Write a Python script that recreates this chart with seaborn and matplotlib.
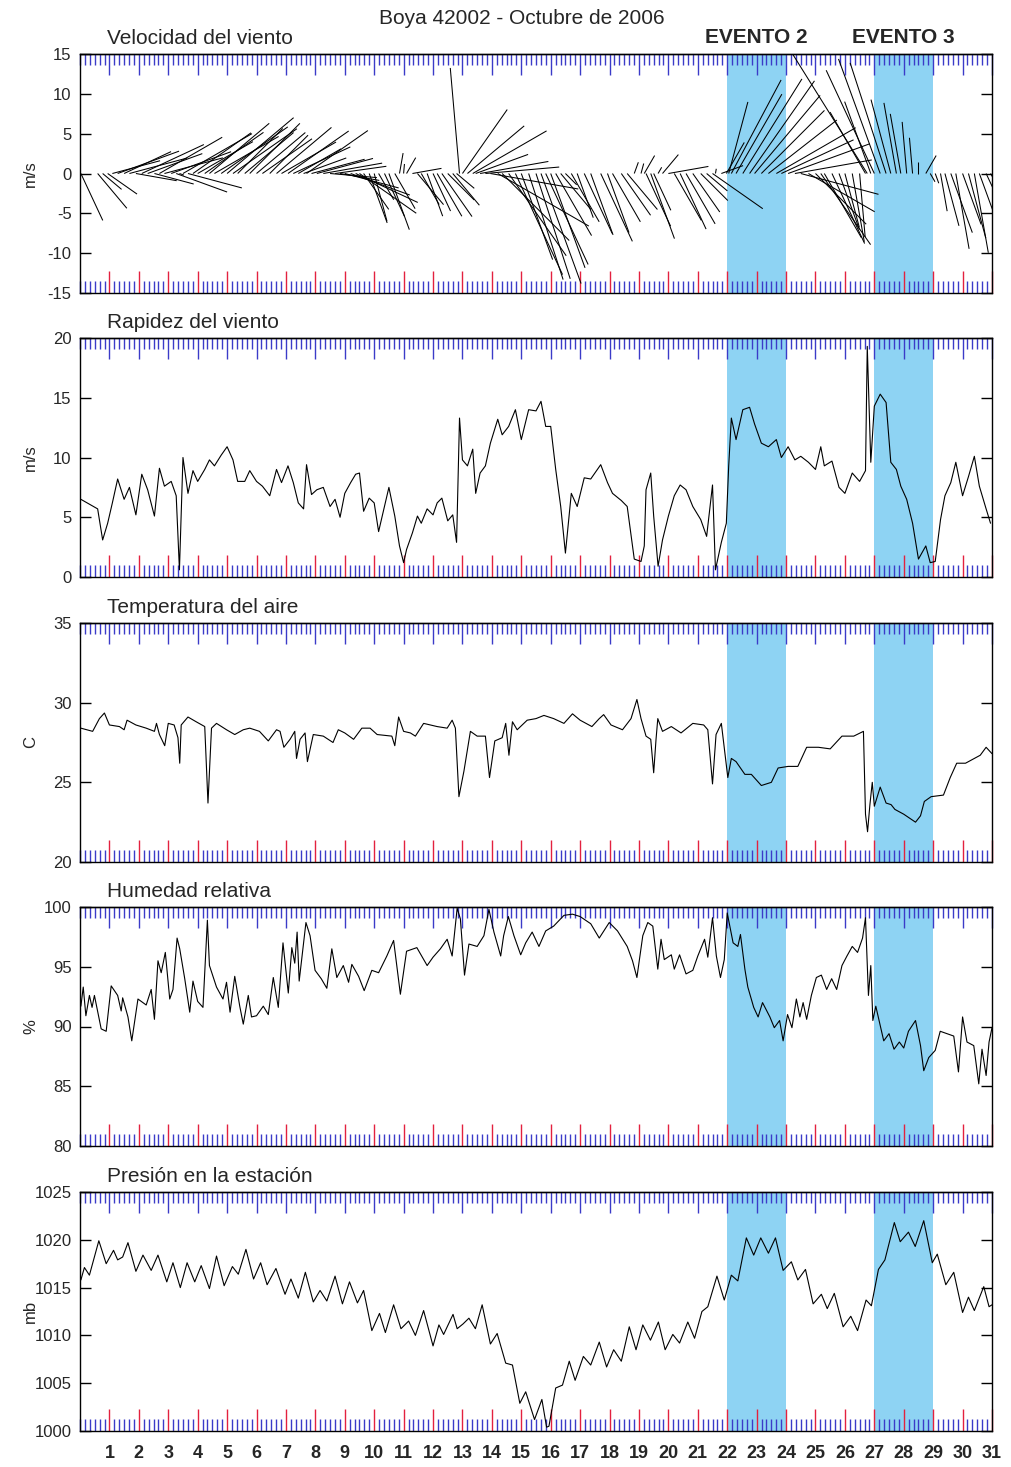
import numpy as np
import pandas as pd
import matplotlib
matplotlib.use("Agg")
import matplotlib.pyplot as plt
import seaborn as sns
from matplotlib.ticker import MultipleLocator, FixedLocator
from matplotlib.collections import LineCollection

# ---------------- data ----------------
# wind speed (m/s) and stick direction (deg, 0 = toward right/east, 90 = up/north)
t_wind = [0.03, 0.6, 0.77, 0.94, 1.1, 1.28, 1.5, 1.68, 1.9, 2.1, 2.3, 2.53, 2.7, 2.87, 3.1, 3.27, 3.38, 3.5,
          3.67, 3.84, 4.0, 4.24, 4.4, 4.57, 4.8, 5.0, 5.2, 5.36, 5.6, 5.77, 6.0, 6.2, 6.45, 6.68, 6.85, 7.07,
          7.25, 7.42, 7.6, 7.7, 7.87, 8.05, 8.27, 8.5, 8.67, 8.84, 9.0, 9.2, 9.37, 9.5, 9.64, 9.83, 10.0,
          10.15, 10.35, 10.5, 10.7, 10.86, 11.0, 11.1, 11.3, 11.47, 11.6, 11.8, 12.0, 12.14, 12.3, 12.5,
          12.67, 12.8, 12.9, 13.0, 13.17, 13.35, 13.45, 13.6, 13.78, 13.95, 14.2, 14.35, 14.57, 14.8, 15.0,
          15.25, 15.5, 15.67, 15.83, 16.0, 16.17, 16.34, 16.5, 16.7, 16.9, 17.14, 17.36, 17.7, 17.93, 18.1,
          18.4, 18.6, 18.84, 19.07, 19.18, 19.24, 19.4, 19.5, 19.65, 19.8, 20.0, 20.2, 20.4, 20.6, 20.83,
          21.1, 21.3, 21.5, 21.6, 21.8, 21.97, 22.05, 22.14, 22.3, 22.53, 22.76, 22.93, 23.16, 23.4, 23.67,
          23.84, 24.07, 24.3, 24.5, 24.76, 25.0, 25.18, 25.3, 25.56, 25.8, 26.0, 26.25, 26.5, 26.7, 26.76,
          26.88, 27.0, 27.2, 27.4, 27.56, 27.75, 27.9, 28.1, 28.3, 28.5, 28.75, 28.9, 29.07, 29.25, 29.4,
          29.6, 29.77, 30.0, 30.2, 30.4, 30.57, 30.8, 30.95]
speed = [6.5, 5.7, 3.1, 4.5, 6.2, 8.2, 6.5, 7.5, 5.2, 8.6, 7.3, 5.1, 9.1, 7.6, 8.0, 6.8, 0.6, 10.0,
         7.0, 8.9, 8.0, 9.0, 9.8, 9.3, 10.2, 10.9, 9.8, 8.0, 8.0, 8.9, 8.0, 7.6, 6.8, 9.0, 7.9, 9.3,
         7.9, 6.2, 5.7, 9.4, 6.9, 7.3, 7.5, 5.9, 6.5, 5.0, 7.0, 7.9, 8.6, 8.7, 5.5, 6.6, 6.2,
         3.8, 5.9, 7.5, 5.1, 2.6, 1.2, 2.3, 3.7, 5.1, 4.5, 5.7, 5.2, 6.2, 6.6, 4.7,
         5.2, 2.9, 13.3, 9.8, 9.3, 10.7, 7.0, 8.7, 9.3, 11.2, 13.2, 11.9, 12.6, 14.0, 11.5,
         14.0, 13.9, 14.7, 12.6, 12.6, 9.0, 5.9, 2.0, 7.0, 5.9, 8.3, 8.2, 9.4, 7.9, 7.0,
         6.4, 5.9, 1.5, 1.3, 2.6, 7.3, 8.7, 5.1, 0.9, 3.1, 5.1, 6.8, 7.7, 7.3, 5.9,
         4.8, 3.4, 7.7, 0.6, 2.9, 4.5, 9.3, 13.3, 11.5, 14.0, 14.2, 12.8, 11.2, 10.9, 11.5,
         10.0, 10.9, 9.8, 10.1, 9.6, 9.0, 10.9, 9.3, 9.7, 7.5, 7.0, 8.7, 8.0, 8.9, 19.3,
         9.6, 14.3, 15.3, 14.6, 9.6, 9.0, 7.6, 6.5, 4.5, 1.5, 2.6, 1.2, 1.3, 4.8, 6.8,
         7.9, 9.6, 6.8, 8.4, 10.1, 7.6, 5.7, 4.5]
direction = [-65, -50, -40, -35, 15, 20, 25, 15, -10, 25, 20, -15, 30, 15, 20, -20, -20, 30,
             -15, 35, 30, 35, 40, 30, 35, 40, 35, 45, 40, 45, 40, 35, 45, 40, 30, 35,
             25, 30, 20, 35, 15, 15, 10, -5, 8, -10, -15, -20, -25, -35, -55, -70, -75,
             -60, -65, -70, -60, 80, 85, 60, 10, -50, -60, -70, -65, -60, -55, -45,
             -50, -40, 95, 55, 40, 30, 20, 10, 5, -10, -30, -45, -55, -65, -70,
             -72, -72, -70, -65, -70, -60, -50, -45, -60, -70, -65, -70, -65, -70, -60,
             -55, -50, 70, 75, 60, -65, -70, -65, 60, 50, 10, -60, -65, -60, -55,
             -45, -40, -35, 80, 20, 60, 75, 62, 60, 58, 55, 50, 45, 38, 30,
             25, 20, 10, -15, -30, -45, -55, -60, -65, -70, -75, -80, -85, 120, 122,
             110, 115, 110, 108, 105, 100, 100, 95, 95, 90, 60, -60, -70, -80, -75,
             -70, -80, -70, -75, -80, -70, -65, -60]

# air temperature (C)
t_temp = [0.03, 0.43, 0.66, 0.83, 1.0, 1.34, 1.5, 1.6, 1.9, 2.25, 2.53, 2.6, 2.7, 2.88, 3.0, 3.2, 3.33, 3.39,
          3.44, 3.67, 3.95, 4.24, 4.35, 4.47, 4.64, 4.98, 5.26, 5.55, 5.77, 6.1, 6.4, 6.68, 6.8, 6.93, 7.14,
          7.3, 7.36, 7.48, 7.65, 7.73, 7.93, 8.27, 8.6, 8.78, 9.0, 9.3, 9.58, 9.86, 10.1, 10.6, 10.7, 10.83,
          11.0, 11.23, 11.4, 11.68, 12.14, 12.48, 12.65, 12.76, 12.88, 13.05, 13.27, 13.5, 13.78, 13.92,
          14.1, 14.35, 14.47, 14.58, 14.7, 14.86, 15.2, 15.5, 15.77, 16.1, 16.45, 16.74, 17.0, 17.4, 17.65,
          17.8, 18.05, 18.44, 18.73, 18.93, 19.07, 19.24, 19.4, 19.5, 19.58, 19.64, 19.8, 20.1, 20.43,
          20.83, 21.2, 21.34, 21.5, 21.62, 21.8, 22.02, 22.14, 22.3, 22.6, 22.82, 23.16, 23.5, 23.73,
          24.07, 24.4, 24.7, 25.1, 25.5, 25.9, 26.3, 26.63, 26.7, 26.77, 26.85, 26.93, 27.0, 27.2, 27.4,
          27.57, 27.7, 28.0, 28.4, 28.57, 28.7, 28.93, 29.35, 29.58, 29.8, 30.1, 30.4, 30.6, 30.8, 31.0]
temp = [28.4, 28.2, 29.0, 29.35, 28.6, 28.5, 28.3, 28.9, 28.6, 28.4, 28.2, 28.7, 28.0, 27.3, 28.7, 28.6, 27.8, 26.2,
        28.6, 29.1, 28.8, 28.5, 23.7, 28.4, 28.7, 28.3, 28.0, 28.3, 28.4, 28.2, 27.6, 28.3, 28.2, 27.2, 27.7,
        28.2, 26.5, 27.7, 28.1, 26.3, 28.0, 27.9, 27.5, 28.3, 28.1, 27.7, 28.4, 28.4, 28.0, 27.9, 27.3, 29.1,
        28.2, 28.1, 27.9, 28.7, 28.5, 28.4, 28.9, 28.4, 24.1, 25.7, 28.2, 27.9, 27.9, 25.3,
        27.6, 27.8, 28.7, 26.7, 28.8, 28.3, 28.9, 29.0, 29.2, 29.0, 28.7, 29.3, 28.9, 28.5, 29.0,
        29.25, 28.6, 28.3, 29.0, 30.2, 29.0, 27.9, 27.7, 25.6, 27.7, 29.0, 28.2, 28.5, 28.1,
        28.7, 28.6, 28.3, 24.9, 28.0, 28.7, 25.3, 26.5, 26.3, 25.5, 25.5, 24.8, 25.0, 25.9,
        26.0, 26.0, 27.2, 27.2, 27.1, 27.9, 27.9, 28.2, 23.0, 21.9, 23.6, 25.0, 23.5, 24.7, 23.7,
        23.6, 23.3, 23.0, 22.5, 22.9, 23.8, 24.1, 24.2, 25.3, 26.2, 26.2, 26.5, 26.7, 27.2, 26.8]

# relative humidity (%)
t_hum = [0.03, 0.11, 0.2, 0.32, 0.41, 0.49, 0.72, 0.89, 1.06, 1.28, 1.4, 1.45, 1.63, 1.76, 1.97, 2.25, 2.42,
         2.53, 2.65, 2.76, 2.9, 3.05, 3.16, 3.3, 3.39, 3.56, 3.73, 3.84, 4.0, 4.18, 4.33, 4.4, 4.64, 4.86,
         4.98, 5.1, 5.26, 5.43, 5.55, 5.72, 5.83, 6.0, 6.23, 6.4, 6.57, 6.74, 6.9, 7.08, 7.2, 7.3, 7.38,
         7.45, 7.68, 7.82, 7.99, 8.2, 8.39, 8.56, 8.73, 8.95, 9.13, 9.24, 9.47, 9.66, 9.92, 10.15, 10.43,
         10.66, 10.89, 11.1, 11.45, 11.8, 12.0, 12.25, 12.48, 12.65, 12.82, 12.93, 13.07, 13.22, 13.5,
         13.73, 13.9, 14.07, 14.3, 14.4, 14.56, 14.75, 14.98, 15.15, 15.37, 15.6, 15.83, 16.1, 16.45,
         16.74, 17.0, 17.36, 17.65, 17.99, 18.27, 18.6, 18.78, 18.93, 19.13, 19.3, 19.47, 19.64, 19.75,
         19.86, 20.1, 20.2, 20.38, 20.6, 20.83, 21.0, 21.23, 21.34, 21.5, 21.63, 21.77, 21.9, 22.0, 22.2,
         22.36, 22.45, 22.6, 22.7, 22.9, 23.05, 23.2, 23.45, 23.6, 23.78, 23.9, 24.05, 24.2, 24.35, 24.47,
         24.58, 24.7, 24.86, 25.03, 25.2, 25.38, 25.55, 25.72, 25.9, 26.07, 26.25, 26.43, 26.6, 26.7,
         26.8, 26.88, 26.95, 27.05, 27.2, 27.32, 27.5, 27.67, 27.85, 28.0, 28.16, 28.4, 28.57, 28.68,
         28.85, 29.07, 29.24, 29.47, 29.7, 29.86, 30.0, 30.15, 30.38, 30.55, 30.66, 30.8, 30.9, 31.0]
hum = [91.7, 93.3, 90.9, 92.6, 91.6, 92.6, 89.8, 89.6, 93.4, 92.6, 91.3, 92.4, 90.8, 88.8, 92.3, 91.8, 93.1,
       90.6, 95.5, 94.5, 96.2, 92.3, 93.1, 97.4, 96.5, 94.0, 91.2, 93.8, 92.1, 91.6, 98.9, 95.1, 93.3, 92.3,
       93.7, 91.2, 94.2, 91.7, 90.2, 92.6, 90.8, 90.9, 91.7, 91.0, 94.1, 91.6, 97.0, 92.8, 96.6, 95.3, 97.9,
       93.8, 98.7, 97.6, 94.7, 94.0, 93.2, 96.5, 94.1, 95.1, 93.7, 95.2, 94.2, 93.0, 94.7, 94.5, 95.9,
       97.2, 92.7, 96.3, 96.6, 95.1, 95.8, 96.5, 97.3, 95.9, 99.9, 99.0, 94.3, 96.9, 96.7,
       97.6, 99.8, 97.9, 95.9, 97.6, 99.2, 97.6, 96.0, 97.0, 97.9, 96.7, 98.0, 98.4, 99.3,
       99.4, 99.2, 98.6, 97.4, 98.7, 98.0, 96.7, 95.5, 94.1, 97.6, 98.7, 98.4, 94.8, 97.3,
       95.6, 96.0, 94.8, 96.0, 94.4, 94.7, 95.9, 97.3, 95.8, 99.1, 95.9, 94.1, 95.6, 99.5, 97.0,
       96.7, 97.7, 94.8, 93.3, 91.6, 90.8, 92.0, 90.8, 89.9, 90.5, 88.8, 91.0, 89.9, 92.3, 90.8,
       92.0, 90.6, 92.6, 94.1, 94.3, 93.1, 94.0, 93.1, 95.1, 95.9, 96.7, 96.2, 97.4, 99.1,
       92.6, 95.1, 90.5, 91.7, 90.1, 88.8, 89.4, 88.1, 88.7, 88.2, 89.6, 90.5, 88.4, 86.3,
       87.4, 88.0, 89.6, 89.4, 89.2, 86.2, 90.8, 88.7, 88.4, 85.2, 88.1, 85.9, 88.7, 89.9]

# station pressure (mb)
t_pres = [0.03, 0.15, 0.32, 0.64, 0.89, 1.14, 1.28, 1.45, 1.63, 1.9, 2.14, 2.42, 2.65, 2.95, 3.16, 3.41, 3.64,
          3.9, 4.12, 4.4, 4.64, 4.9, 5.18, 5.38, 5.64, 5.9, 6.14, 6.36, 6.66, 6.97, 7.17, 7.42, 7.66, 7.93,
          8.16, 8.39, 8.67, 8.92, 9.16, 9.43, 9.64, 9.92, 10.18, 10.38, 10.66, 10.91, 11.17, 11.4, 11.68,
          12.0, 12.2, 12.36, 12.68, 12.82, 13.02, 13.22, 13.44, 13.67, 13.95, 14.18, 14.47, 14.7, 14.95,
          15.15, 15.45, 15.7, 15.86, 15.94, 16.17, 16.4, 16.63, 16.83, 17.11, 17.36, 17.65, 17.9, 18.14,
          18.4, 18.67, 18.9, 19.13, 19.39, 19.66, 19.89, 20.15, 20.38, 20.66, 20.89, 21.14, 21.34, 21.65,
          21.9, 22.14, 22.36, 22.65, 22.9, 23.14, 23.4, 23.64, 23.9, 24.18, 24.4, 24.66, 24.92, 25.2,
          25.4, 25.64, 25.94, 26.2, 26.43, 26.72, 26.9, 27.14, 27.36, 27.68, 27.88, 28.16, 28.39, 28.68,
          28.97, 29.14, 29.43, 29.7, 30.0, 30.2, 30.4, 30.72, 30.9, 31.0]
pres = [1015.8, 1017.1, 1016.3, 1019.9, 1017.5, 1018.9, 1017.9, 1018.2, 1019.7, 1016.7, 1018.4, 1016.8, 1018.4,
        1015.6, 1017.6, 1015.0, 1017.6, 1015.6, 1017.3, 1014.9, 1018.3, 1015.2, 1017.2, 1016.4, 1019.0, 1015.9,
        1017.6, 1015.3, 1017.0, 1014.3, 1015.9, 1013.9, 1016.6, 1013.5, 1014.7, 1013.6, 1016.2, 1013.3, 1015.6,
        1013.4, 1014.7, 1010.5, 1012.3, 1010.3, 1013.2, 1010.7, 1011.5, 1010.0, 1012.6, 1008.9, 1011.1, 1010.1,
        1012.2, 1010.7, 1011.2, 1011.8, 1010.7, 1013.2, 1009.1, 1010.2, 1007.1, 1006.9, 1002.9, 1004.1, 1001.2,
        1003.3, 1000.4, 1000.5, 1004.5, 1004.8, 1007.3, 1005.3, 1007.8, 1006.9, 1009.3, 1006.7, 1008.5, 1007.3,
        1010.9, 1008.5, 1011.1, 1009.5, 1011.4, 1008.5, 1010.1, 1009.2, 1011.4, 1009.7, 1012.5, 1013.0, 1016.2,
        1013.7, 1016.3, 1015.7, 1020.2, 1018.4, 1020.2, 1018.6, 1020.2, 1016.8, 1017.7, 1015.8, 1016.9, 1013.3,
        1014.3, 1012.8, 1014.4, 1010.9, 1012.0, 1010.5, 1013.7, 1013.1, 1016.9, 1017.9, 1021.8, 1019.8, 1020.8,
        1019.3, 1022.0, 1017.6, 1018.5, 1015.3, 1016.6, 1012.4, 1014.0, 1012.6, 1015.1, 1013.0, 1013.2]

events = [("EVENTO 2", 22, 24), ("EVENTO 3", 27, 29)]
panel_titles = ["Velocidad del viento", "Rapidez del viento", "Temperatura del aire",
                "Humedad relativa", "Presión en la estación"]
units = ["m/s", "m/s", "C", "%", "mb"]
ylims = [(-15, 15), (0, 20), (20, 35), (80, 100), (1000, 1025)]
day_ticks = list(range(1, 32))
main_title = "Boya 42002 - Octubre de 2006"

# ---------------- style ----------------
sns.set_style("white")
plt.rcParams['font.family'] = ['Liberation Sans', 'DejaVu Sans']
plt.rcParams['axes.linewidth'] = 1.0
plt.rcParams['axes.unicode_minus'] = False

W, H = 1012, 1467
fig = plt.figure(figsize=(W / 100, H / 100), dpi=100)
left_px, right_px = 80, 992
tops = [54, 338, 623, 907, 1192]
ax_h_px = 239
SHADE = "#8ed3f3"
BLUE = "#3b3bc8"
RED = "#e3213f"

series = [None,
          (t_wind, speed),
          (t_temp, temp),
          (t_hum, hum),
          (t_pres, pres)]

axes = []
for i in range(5):
    top = tops[i]
    ax = fig.add_axes([left_px / W, 1 - (top + ax_h_px) / H, (right_px - left_px) / W, ax_h_px / H])
    axes.append(ax)
    ax.set_xlim(0, 31)
    ax.set_ylim(*ylims[i])
    for _, a, b in events:
        ax.axvspan(a, b, color=SHADE, lw=0, zorder=0)

    if i == 0:
        k = (ax_h_px / 30.0) * (31.0 / (right_px - left_px))  # days per m/s (equal-aspect sticks)
        sp = np.asarray(speed)
        th = np.deg2rad(np.asarray(direction))
        u = sp * np.cos(th)
        v = sp * np.sin(th)
        tt = np.asarray(t_wind)
        segs = np.stack([np.column_stack([tt, np.zeros_like(tt)]),
                         np.column_stack([tt + u * k, v])], axis=1)
        ax.add_collection(LineCollection(segs, colors='k', linewidths=0.75, zorder=3))
    else:
        tx, yv = series[i]
        df = pd.DataFrame({"t": tx, "y": yv})
        sns.lineplot(data=df, x="t", y="y", ax=ax, color="k", lw=0.8, estimator=None, zorder=3)

    # y axis
    ax.set_yticks(np.arange(ylims[i][0], ylims[i][1] + 0.1, 5))
    ax.tick_params(axis='y', which='major', direction='in', left=True, right=True, length=8,
                   width=1, color='k', labelsize=12, pad=6)
    ax.set_ylabel(units[i], fontsize=12)
    ax.yaxis.set_label_coords(-0.046, 0.5)
    ax.set_xlabel("")

    # bottom x ticks: red at days, blue every 4 h
    ax.xaxis.set_major_locator(FixedLocator(day_ticks))
    ax.xaxis.set_minor_locator(MultipleLocator(1 / 6))
    ax.tick_params(axis='x', which='major', direction='in', bottom=True, top=False,
                   length=16, width=1, color=RED, labelsize=13, pad=10)
    ax.tick_params(axis='x', which='minor', direction='in', bottom=True, top=False,
                   length=9, width=1, color=BLUE)
    if i == 4:
        ax.set_xticks(day_ticks, labels=[str(d) for d in day_ticks], fontweight='bold')
    else:
        ax.tick_params(axis='x', labelbottom=False)

    # top x ticks: all blue
    sec = ax.secondary_xaxis('top')
    sec.xaxis.set_major_locator(FixedLocator(day_ticks))
    sec.xaxis.set_minor_locator(MultipleLocator(1 / 6))
    sec.tick_params(axis='x', which='major', direction='in', length=15, width=1, color=BLUE,
                    labeltop=False, labelbottom=False)
    sec.tick_params(axis='x', which='minor', direction='in', length=8, width=1, color=BLUE)

    for s in ax.spines.values():
        s.set_color('k')
        s.set_linewidth(1.0)

    ax.text(0.03, 1.025, panel_titles[i], transform=ax.transAxes, ha='left', va='bottom', fontsize=15)

# title and event labels
fig.text(522 / W, 1 - 19 / H, main_title, ha='center', va='center', fontsize=15)
for name, a, b in events:
    axes[0].text((a + b) / 2, 1.03, name, transform=axes[0].get_xaxis_transform(),
                 ha='center', va='bottom', fontsize=15, fontweight='bold')

fig.savefig("out.png", dpi=100)
